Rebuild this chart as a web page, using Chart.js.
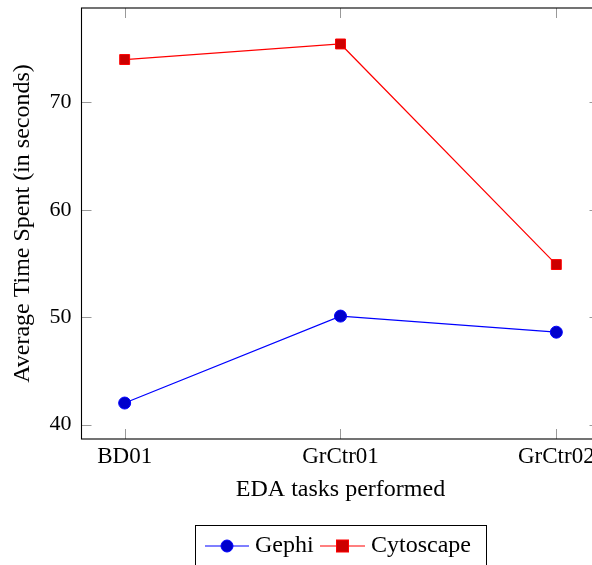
<!DOCTYPE html>
<html>
<head>
<meta charset="utf-8">
<script src="https://cdn.jsdelivr.net/npm/chart.js@4/dist/chart.umd.min.js"></script>
<style>
  html, body { margin: 0; padding: 0; background: #fff; overflow: hidden; }
  #wrap { width: 592px; height: 565px; overflow: hidden; position: relative; }
  canvas { display: block; }
</style>
</head>
<body>
<div id="wrap"><canvas id="c" width="612" height="600" style="width:612px;height:600px"></canvas></div>
<script>
const categories = ['BD01', 'GrCtr01', 'GrCtr02'];
const gephiValues = [42.0, 50.1, 48.6];
const cytoscapeValues = [74.0, 75.45, 54.9];
const yTickValues = [40, 50, 60, 70];
const xTitle = 'EDA tasks performed';
const yTitle = 'Average Time Spent (in seconds)';

const FONT = "'Liberation Serif', 'DejaVu Serif', serif";

const toPoints = vals => vals.map((v, i) => ({ x: i, y: v }));

const framePlugin = {
  id: 'frame',
  afterDatasetsDraw(chart) {
    const { ctx, chartArea: a, scales } = chart;
    ctx.save();
    ctx.strokeStyle = '#999';
    ctx.lineWidth = 1;
    const L = 10;
    ctx.beginPath();
    categories.forEach((c, i) => {
      const px = Math.round(scales.x.getPixelForValue(i)) + 0.5;
      ctx.moveTo(px, a.bottom); ctx.lineTo(px, a.bottom - L);
      ctx.moveTo(px, a.top); ctx.lineTo(px, a.top + L);
    });
    yTickValues.forEach(v => {
      const py = Math.round(scales.y.getPixelForValue(v)) + 0.5;
      ctx.moveTo(a.left, py); ctx.lineTo(a.left + L, py);
      ctx.moveTo(a.right, py); ctx.lineTo(a.right - L, py);
    });
    ctx.stroke();
    ctx.strokeStyle = '#000';
    ctx.lineWidth = 1.1;
    ctx.strokeRect(a.left, a.top, a.right - a.left, a.bottom - a.top);
    ctx.restore();
  },
  afterDraw(chart) {
    const { ctx } = chart;
    const ds = chart.data.datasets;
    ctx.save();
    ctx.strokeStyle = '#000';
    ctx.lineWidth = 1;
    ctx.strokeRect(195.5, 525.5, 291, 60);
    const ly = 546;
    const entries = [
      { x0: 205, x1: 249, tx: 255 },
      { x0: 320, x1: 365, tx: 371 }
    ];
    entries.forEach((e, i) => {
      const d = ds[i];
      ctx.strokeStyle = d.borderColor;
      ctx.lineWidth = 1.2;
      ctx.beginPath();
      ctx.moveTo(e.x0, ly); ctx.lineTo(e.x1, ly);
      ctx.stroke();
      const mx = (e.x0 + e.x1) / 2;
      ctx.fillStyle = d.pointBackgroundColor;
      ctx.strokeStyle = d.pointBorderColor;
      ctx.lineWidth = 1;
      if (d.pointStyle === 'circle') {
        ctx.beginPath(); ctx.arc(mx, ly, 6, 0, Math.PI * 2); ctx.fill(); ctx.stroke();
      } else {
        ctx.fillRect(mx - 6, ly - 6, 12, 12); ctx.strokeRect(mx - 6, ly - 6, 12, 12);
      }
      ctx.fillStyle = '#000';
      ctx.font = "24px " + FONT;
      ctx.textBaseline = 'middle';
      ctx.textAlign = 'left';
      ctx.fillText(d.label, e.tx, ly);
    });
    ctx.restore();
  }
};

new Chart(document.getElementById('c'), {
  type: 'line',
  data: {
    datasets: [
      {
        label: 'Gephi',
        data: toPoints(gephiValues),
        borderColor: '#0000ff',
        borderWidth: 1.2,
        pointStyle: 'circle',
        pointRadius: 6,
        pointBackgroundColor: '#0000cc',
        pointBorderColor: '#0000ff',
        pointBorderWidth: 1,
        tension: 0,
        fill: false
      },
      {
        label: 'Cytoscape',
        data: toPoints(cytoscapeValues),
        borderColor: '#ff0000',
        borderWidth: 1.2,
        pointStyle: 'rect',
        pointRadius: 7,
        pointBackgroundColor: '#cc0000',
        pointBorderColor: '#ff0000',
        pointBorderWidth: 1,
        tension: 0,
        fill: false
      }
    ]
  },
  options: {
    responsive: false,
    animation: false,
    devicePixelRatio: 1,
    layout: { padding: { left: 0, top: 8, right: 12.5, bottom: 87 } },
    plugins: { legend: { display: false }, tooltip: { enabled: false } },
    scales: {
      x: {
        type: 'linear',
        min: -0.2,
        max: 2.2,
        afterFit: s => { s.height = 74; s.paddingLeft = 0; s.paddingRight = 0; },
        afterBuildTicks: s => { s.ticks = categories.map((c, i) => ({ value: i })); },
        ticks: {
          callback: v => categories[v] ?? '',
          color: '#000',
          font: { family: FONT, size: 23 },
          padding: 4,
          maxRotation: 0,
          autoSkip: false
        },
        grid: { display: false, drawTicks: false },
        border: { display: false },
        title: {
          display: true,
          text: xTitle,
          color: '#000',
          font: { family: FONT, size: 24 },
          padding: { top: 0, bottom: 8.5 }
        }
      },
      y: {
        type: 'linear',
        min: 38.65,
        max: 78.8,
        afterFit: s => { s.width = 81.5; s.paddingTop = 0; s.paddingBottom = 0; },
        afterBuildTicks: s => { s.ticks = yTickValues.map(v => ({ value: v })); },
        ticks: {
          color: '#000',
          font: { family: FONT, size: 22 },
          padding: 10
        },
        grid: { display: false, drawTicks: false },
        border: { display: false },
        title: {
          display: true,
          text: yTitle,
          color: '#000',
          font: { family: FONT, size: 24 },
          padding: { top: 8.5, bottom: 0 }
        }
      }
    }
  },
  plugins: [framePlugin]
});
</script>
</body>
</html>
